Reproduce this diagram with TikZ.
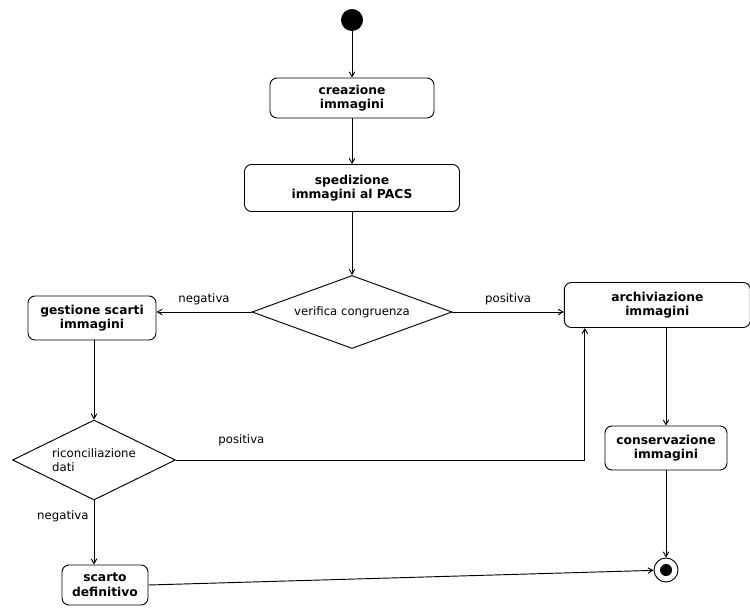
\documentclass[tikz,border=0pt]{standalone}
\usepackage{fontspec}
\setmainfont{DejaVu Sans}
\usepackage{tikz}
\usetikzlibrary{shapes,shapes.geometric,arrows,positioning,calc}

\begin{document}
\begin{tikzpicture}[
        % Styles for the activity diagram
        activity/.style={draw, rounded corners=6pt, thick, align=center, font=\fontsize{10.5}{12.5}\selectfont\bfseries, inner sep=2pt},
        decision/.style={draw, diamond, thick, inner sep=0pt, font=\fontsize{10}{12}\selectfont},
        startdot/.style={circle, fill=black, minimum size=0.66cm, inner sep=0pt},
        endring/.style={circle, draw, thick, minimum size=0.72cm, inner sep=0pt},
        arrow/.style={->, >=angle 60, thick},
        guard/.style={font=\fontsize{10}{12}\selectfont}
      ]

      % Page frame
      \useasboundingbox (0,0) rectangle (22.5,18.21);

      % Initial and final states
      \node[startdot] (start) at (10.56,17.61) {};
      \node[endring] (end) at (19.98,1.11) {};
      \fill (end.center) circle (0.18);

      % Main flow
      \node[activity, minimum width=4.92cm, minimum height=1.2cm] (creazione) at (10.56,15.27) {creazione\\immagini};
      \node[activity, minimum width=6.45cm, minimum height=1.41cm] (spedizione) at (10.56,12.57) {spedizione\\immagini al PACS};
      \node[decision, minimum width=6.0cm, minimum height=2.19cm, aspect=2.7] (verifica) at (10.56,8.85) {verifica congruenza};

      % Left branch
      \node[activity, minimum width=3.84cm, minimum height=1.32cm] (gestione) at (2.76,8.67) {gestione scarti\\immagini};
      \node[decision, minimum width=4.89cm, minimum height=2.4cm, aspect=2, align=left] (riconciliazione) at (2.82,4.41) {riconciliazione\\dati};
      \node[activity, minimum width=2.58cm, minimum height=1.2cm] (scarto) at (3.15,0.66) {scarto\\definitivo};

      % Right branch
      \node[activity, minimum width=5.58cm, minimum height=1.35cm] (archiviazione) at (19.72,9.06) {archiviazione\\immagini};
      \node[activity, minimum width=3.66cm, minimum height=1.32cm] (conservazione) at (19.98,4.77) {conservazione\\immagini};

      % Connectors
      \draw[arrow] (start) -- (creazione);
      \draw[arrow] (creazione) -- (spedizione);
      \draw[arrow] (spedizione) -- (verifica);
      \draw[arrow] (verifica.west) -- node[guard, above=2pt] {negativa} (verifica.west -| gestione.east);
      \draw[arrow] (verifica.east) -- node[guard, above=2pt] {positiva} (verifica.east -| archiviazione.west);
      \draw[arrow] (gestione.south -| riconciliazione.north) -- (riconciliazione.north);
      \coordinate (join) at ($(archiviazione.south west)+(0.63,0)$);
      \draw[arrow] (riconciliazione.east) -| node[guard, pos=0.08, above=8pt] {positiva} (join);
      \draw[arrow] (riconciliazione.south) -- node[guard, pos=0.25, left=1pt] {negativa} (riconciliazione.south |- scarto.north);
      \draw[arrow] (archiviazione.south -| conservazione.north) -- (conservazione.north);
      \draw[arrow] (conservazione) -- (end);
      \draw[arrow] (scarto.east) -- (end);

    \end{tikzpicture}
\end{document}
